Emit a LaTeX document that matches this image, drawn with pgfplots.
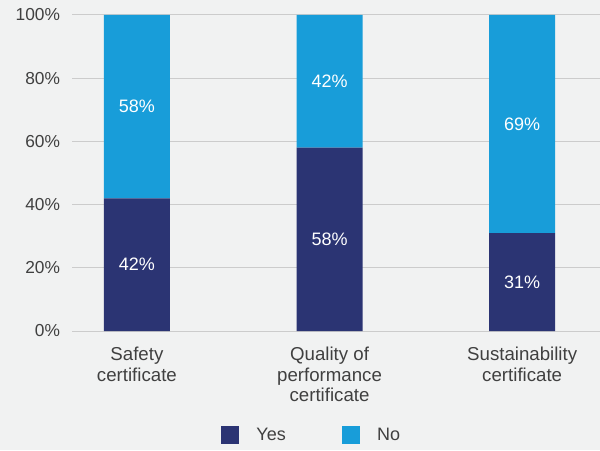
\documentclass[border=0pt]{standalone}
\usepackage{pgfplots}
\pgfplotsset{compat=1.18}
\usepackage{pgfplotstable}
\usepackage{fontspec}
\setmainfont{Liberation Sans}
\definecolor{bgcol}{HTML}{F1F2F2}
\definecolor{yescol}{HTML}{2B3473}
\definecolor{nocol}{HTML}{189DD9}
\definecolor{txtcol}{HTML}{404040}
\definecolor{gridcol}{HTML}{CCCCCC}
\pgfplotstableread{
x Yes No
0 42 58
1 58 42
2 31 69
}\datatable
\pgfplotstableread{
x y lab
0 21 42
1 29 58
2 15.5 31
0 71 58
1 79 42
2 65.5 69
}\labtable
\pgfplotsset{common/.style={
  at={(54pt,89.25pt)}, anchor=south west,
  scale only axis, width=396pt, height=237pt,
  xmin=-0.337, xmax=2.404, ymin=0, ymax=100}}
\begin{document}
\begin{tikzpicture}
\fill[bgcol] (0,0) rectangle (450pt,337.5pt);
\useasboundingbox (0,0) rectangle (450pt,337.5pt);
\begin{axis}[
  common,
  ybar stacked, bar width=49.5pt,
  xtick={0,1,2},
  xticklabels={{Safety\\certificate},{Quality of\\performance\\certificate},{Sustainability\\certificate}},
  ytick={0,20,40,60,80,100},
  yticklabels={0\%,20\%,40\%,60\%,80\%,100\%},
  ymajorgrids, grid style={gridcol, line width=0.75pt},
  axis line style={draw=none},
  major tick length=0pt,
  yticklabel style={font=\fontsize{13}{15}\selectfont, text=txtcol, anchor=east, xshift=-5.5pt},
  xticklabel style={font=\fontsize{14}{15.5}\selectfont, text=txtcol, align=center, anchor=north, yshift=-8.5pt},
  legend style={at={(rel axis cs:0.4545,0)}, yshift=-78pt, anchor=center, draw=none, fill=none,
    legend columns=2, font=\fontsize{13.5}{15}\selectfont, text=txtcol,
    /tikz/every even column/.append style={column sep=40pt}},
  legend image code/.code={\fill[#1] (0pt,-6.75pt) rectangle (13.5pt,6.75pt);},
  legend cell align=left,
]
\addplot[fill=yescol, draw=none] table[x=x, y=Yes] {\datatable};
\addlegendentry{\hspace{11pt}Yes}
\addplot[fill=nocol, draw=none] table[x=x, y=No] {\datatable};
\addlegendentry{\hspace{11pt}No}
\end{axis}
\begin{axis}[common, hide axis]
\addplot[draw=none, mark=none, only marks, point meta=explicit symbolic,
  nodes near coords={\pgfplotspointmeta\%},
  every node near coord/.append style={font=\fontsize{13.5}{15}\selectfont, text=white, anchor=center}]
  table[x=x, y=y, meta=lab] {\labtable};
\end{axis}
\end{tikzpicture}
\end{document}
